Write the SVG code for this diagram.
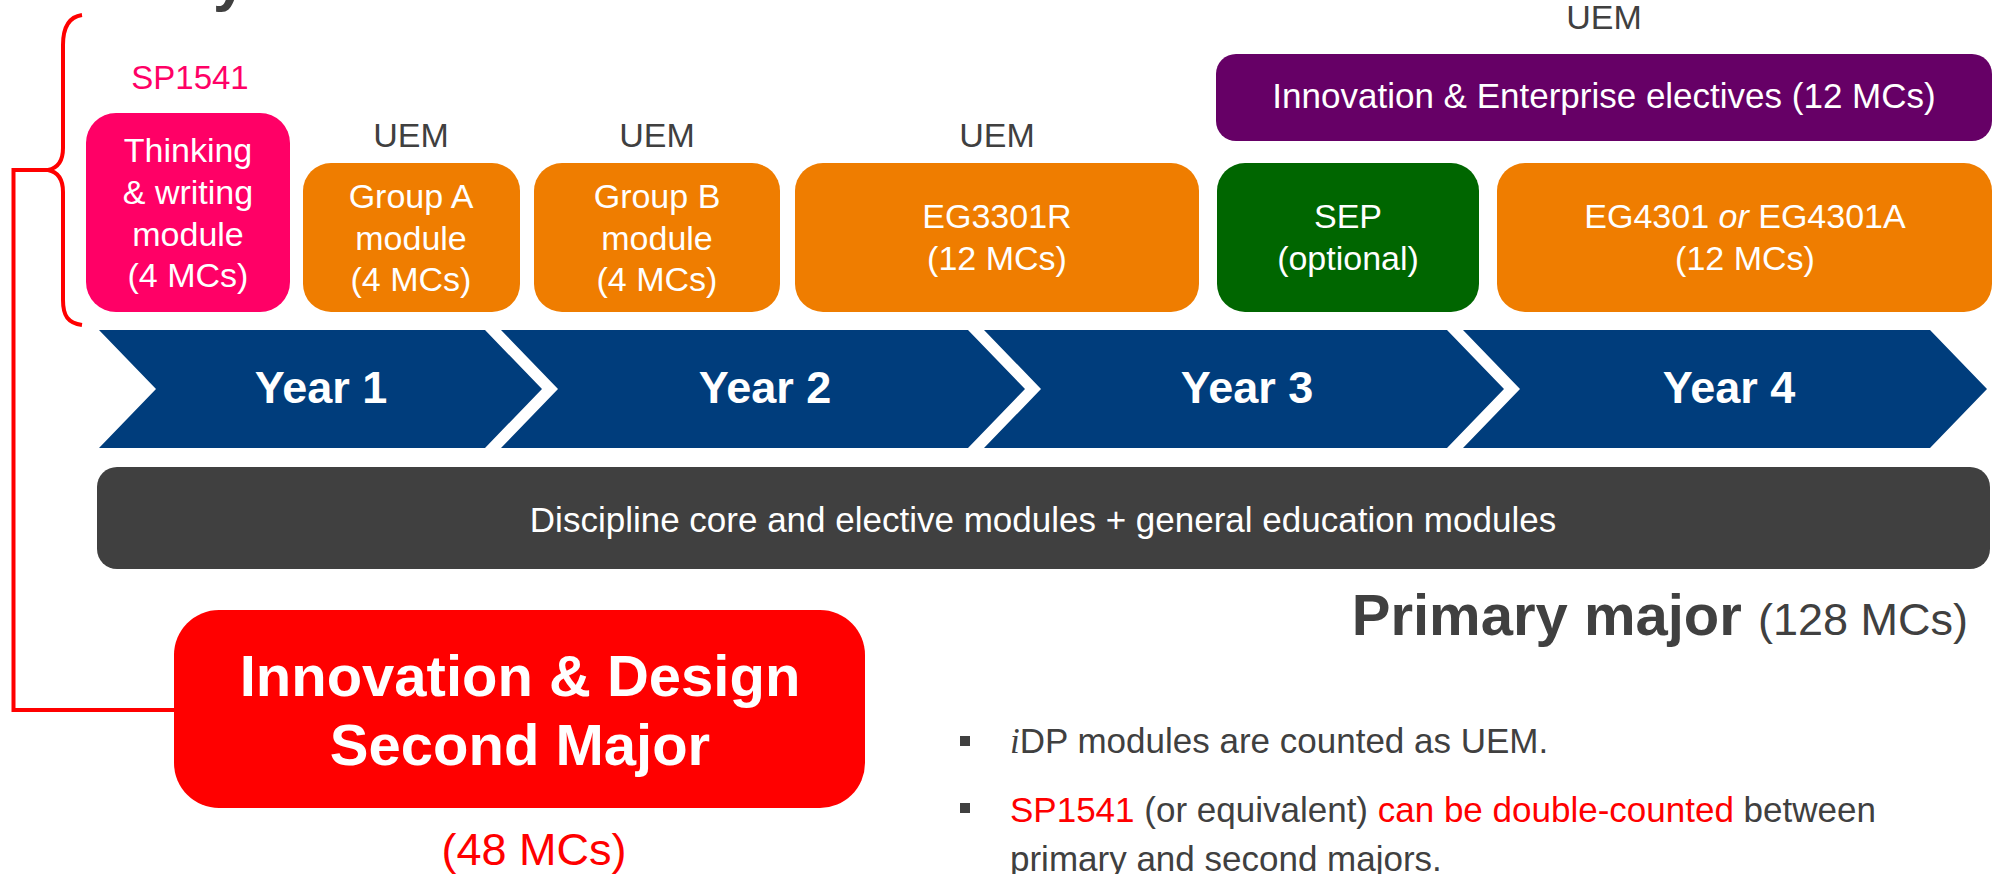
<svg xmlns="http://www.w3.org/2000/svg" width="1995" height="874" viewBox="0 0 1995 874">
<style>
text{font-family:"Liberation Sans",Arial,sans-serif}
.w{fill:#fff;font-size:34px;text-anchor:middle}
.uem{fill:#404040;font-size:34px;text-anchor:middle}
.yr{fill:#fff;font-size:45px;font-weight:bold;text-anchor:middle}
.org{fill:#ef7d00}
.g{fill:#404040;font-size:35px}
.r{fill:#ff0000}
.conn{fill:none;stroke:#ff0000;stroke-width:4}
</style>
<rect width="1995" height="874" fill="#fff"/>
<text x="213" y="0" style="font-size:60px;font-weight:bold;fill:#404040">y</text>

<g id="connectors">
<path class="conn" d="M82,15 C68,17 63,28 63,45 L63,148 C63,161 58,168 48,170 C58,172 63,179 63,192 L63,300 C63,316 68,323 82,325" stroke-width="4.5"/>
<path class="conn" d="M48,170 L13.5,170 L13.5,710 L174,710"/>
</g>

<g id="sp1541">
<text x="190" y="89" style="fill:#ff0066;font-size:33px;text-anchor:middle">SP1541</text>
<rect x="86" y="113" width="204" height="199" rx="30" fill="#ff0066"/>
<text class="w" x="188" y="162">Thinking</text>
<text class="w" x="188" y="204">&amp; writing</text>
<text class="w" x="188" y="246">module</text>
<text class="w" x="188" y="287">(4 MCs)</text>
</g>

<g id="groupA">
<text class="uem" x="411" y="147">UEM</text>
<rect class="org" x="303" y="163" width="217" height="149" rx="28"/>
<text class="w" x="411" y="208">Group A</text>
<text class="w" x="411" y="250">module</text>
<text class="w" x="411" y="291">(4 MCs)</text>
</g>

<g id="groupB">
<text class="uem" x="657" y="147">UEM</text>
<rect class="org" x="534" y="163" width="246" height="149" rx="28"/>
<text class="w" x="657" y="208">Group B</text>
<text class="w" x="657" y="250">module</text>
<text class="w" x="657" y="291">(4 MCs)</text>
</g>

<g id="eg3301r">
<text class="uem" x="997" y="147">UEM</text>
<rect class="org" x="795" y="163" width="404" height="149" rx="28"/>
<text class="w" x="997" y="228">EG3301R</text>
<text class="w" x="997" y="270">(12 MCs)</text>
</g>

<g id="ie-electives">
<text class="uem" x="1604" y="29">UEM</text>
<rect x="1216" y="54" width="776" height="87" rx="20" fill="#660066"/>
<text class="w" x="1604" y="108" style="font-size:35px">Innovation &amp; Enterprise electives (12 MCs)</text>
</g>

<g id="sep">
<rect x="1217" y="163" width="262" height="149" rx="28" fill="#006600"/>
<text class="w" x="1348" y="228">SEP</text>
<text class="w" x="1348" y="270">(optional)</text>
</g>

<g id="eg4301">
<rect class="org" x="1497" y="163" width="495" height="149" rx="28"/>
<text class="w" x="1745" y="228">EG4301 <tspan font-style="italic">or</tspan> EG4301A</text>
<text class="w" x="1745" y="270">(12 MCs)</text>
</g>

<g id="years" fill="#003d7c">
<polygon points="99,330 485,330 542,389 485,448 99,448 156,389"/>
<polygon points="501,330 968,330 1025,389 968,448 501,448 558,389"/>
<polygon points="984,330 1447,330 1504,389 1447,448 984,448 1041,389"/>
<polygon points="1463,330 1930,330 1987,389 1930,448 1463,448 1520,389"/>
<text class="yr" x="321" y="403">Year 1</text>
<text class="yr" x="765" y="403">Year 2</text>
<text class="yr" x="1247" y="403">Year 3</text>
<text class="yr" x="1729" y="403">Year 4</text>
</g>

<g id="discipline">
<rect x="97" y="467" width="1893" height="102" rx="20" fill="#404040"/>
<text x="1043" y="532" style="fill:#fff;font-size:35px;text-anchor:middle">Discipline core and elective modules + general education modules</text>
</g>

<g id="primary">
<text x="1968" y="635" style="fill:#404040;font-size:58px;font-weight:bold;text-anchor:end">Primary major <tspan style="font-weight:normal;font-size:45px">(128 MCs)</tspan></text>
</g>

<g id="second-major">
<rect x="174" y="610" width="691" height="198" rx="45" fill="#ff0000"/>
<text x="520" y="696" style="fill:#fff;font-size:58px;font-weight:bold;text-anchor:middle">Innovation &amp; Design</text>
<text x="520" y="765" style="fill:#fff;font-size:58px;font-weight:bold;text-anchor:middle">Second Major</text>
<text class="r" x="534" y="865" style="font-size:45px;text-anchor:middle">(48 MCs)</text>
</g>

<g id="notes">
<rect x="960" y="736" width="10" height="10" fill="#404040"/>
<text class="g" x="1010" y="753"><tspan style="font-family:'Liberation Serif',serif;font-style:italic">i</tspan>DP modules are counted as UEM.</text>
<rect x="960" y="803" width="10" height="10" fill="#404040"/>
<text class="g" x="1010" y="822"><tspan class="r">SP1541</tspan> (or equivalent) <tspan class="r">can be double-counted</tspan> between</text>
<text class="g" x="1010" y="871">primary and second majors.</text>
</g>
</svg>
